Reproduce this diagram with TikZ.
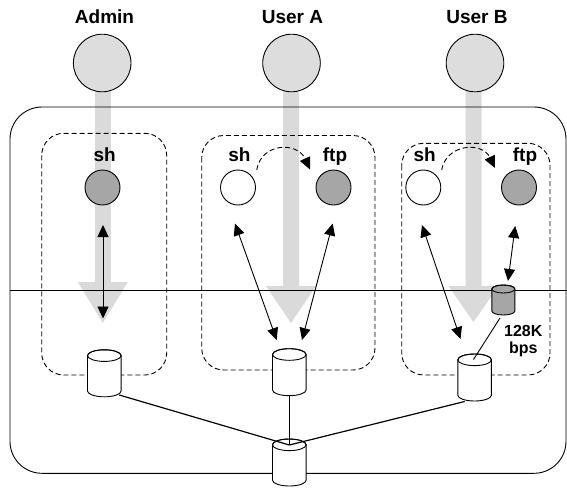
\documentclass[tikz,border=0pt]{standalone}
\usepackage{fontspec}
\setmainfont{Liberation Sans}
\usetikzlibrary{arrows.meta,calc}
\definecolor{ucol}{HTML}{DDDDDD}
\definecolor{shaftc}{HTML}{DADADA}
\definecolor{procg}{HTML}{A6A6A6}
% #1 name, #2 position, #3 x radius, #4 height, #5 y radius of the ends, #6 fill
\newcommand{\dbcyl}[6]{%
  \node[inner sep=0pt, outer sep=0pt, minimum width=2*#3pt, minimum height=#4pt] (#1) at (#2) {};
  \filldraw[fill=#6, line width=0.9pt]
    ($(#1.north west)+(0pt,-#5pt)$) -- ($(#1.south west)+(0pt,#5pt)$)
    arc[start angle=180, end angle=360, x radius=#3pt, y radius=#5pt]
    -- ($(#1.north east)+(0pt,-#5pt)$)
    arc[start angle=0, end angle=180, x radius=#3pt, y radius=#5pt] -- cycle;
  \draw[line width=0.9pt] ($(#1.north)+(0pt,-#5pt)$) ellipse [x radius=#3pt, y radius=#5pt];
}
\begin{document}
\begin{tikzpicture}[x=1pt,y=-1pt,
  lbl/.style={font=\fontsize{19}{21}\selectfont\bfseries, inner sep=0pt, anchor=base},
  user/.style={circle, draw, line width=0.9pt, fill=ucol, minimum size=57.6pt, inner sep=0pt},
  proc/.style={circle, draw, line width=0.9pt, minimum size=35pt, inner sep=0pt},
  grp/.style={draw, dash pattern=on 5pt off 3pt, line width=0.9pt, rounded corners=22pt},
  dbl/.style={line width=0.9pt, {Triangle[length=12pt,width=11pt]}-{Triangle[length=12pt,width=11pt]}},
  flow/.style={line width=0.9pt, dash pattern=on 5pt off 3pt, -{Triangle[length=12pt,width=11pt]}},
  solidline/.style={line width=0.9pt},
  hubline/.style={line width=1.2pt}
]
\useasboundingbox (0,0) rectangle (567,488);

% big gray arrows
\foreach \x/\h/\t in {102.8/282/323, 291/286/323, 473.5/286/322}{
  \fill[shaftc] (\x-8,85) -- (\x+8,85) -- (\x+8,\h) -- (\x+25,\h) -- (\x,\t) -- (\x-25,\h) -- (\x-8,\h) -- cycle;
}

% outer frame and divider
\draw[solidline, rounded corners=32pt] (10,107) rectangle (566,473.3);
\coordinate (hl) at (10,290);
\coordinate (hr) at (567,290);
\draw[solidline] (hl) -- (hr);

% dashed groups
\draw[grp] (41.7,133.3) rectangle (166.7,375);
\draw[grp] (201.7,135.5) rectangle (375,370);
\draw[grp] (401.7,143.3) rectangle (550,375);

% titles and users
\node[lbl] (tAd) at (104.5,23.3) {Admin};
\node[lbl] (tUA) at (292.5,23.3) {User A};
\node[lbl] (tUB) at (477,23.3) {User B};
\node[user] (ad) at (102.2,63) {};
\node[user] (uA) at (291.5,63) {};
\node[user] (uB) at (475,63) {};

% processes
\node[proc, fill=procg] (shAd) at (102.5,187.5) {};
\node[proc, fill=white] (shA) at (238,187.5) {};
\node[proc, fill=procg] (ftpA) at (333.5,187.5) {};
\node[proc, fill=white] (shB) at (423.3,187.5) {};
\node[proc, fill=procg] (ftpB) at (519,187.5) {};

\node[lbl] (lshAd) at (104.7,161.7) {sh};
\node[lbl] (lshA) at (239.5,161.7) {sh};
\node[lbl] (lftpA) at (335,161.7) {ftp};
\node[lbl] (lshB) at (424.7,161.7) {sh};
\node[lbl] (lftpB) at (525,161.7) {ftp};

% fork curves
\coordinate (fA0) at (256.7,170);
\coordinate (fA1) at (310,169.5);
\draw[flow] (fA0) .. controls (261,143) and (297,141) .. (fA1);
\coordinate (fB0) at (441.7,170);
\coordinate (fB1) at (495,168);
\draw[flow] (fB0) .. controls (446,144) and (482,141) .. (fB1);

% cylinders
\dbcyl{cAd}{104.3,373.3}{16.8}{47}{5.8}{white}
\dbcyl{cA}{289.3,372.2}{16.8}{47}{5.8}{white}
\dbcyl{cB}{474.6,377.5}{16.8}{47}{5.8}{white}
\dbcyl{hubc}{289.3,462.5}{16.8}{47}{5.8}{white}
\coordinate (hub) at (289.3,445);
\coordinate (cAdo) at (119.3,395);
\coordinate (cBo) at (464.7,401.5);
\coordinate (cBtop) at (473.5,359.5);
\coordinate (gBo) at (500,318);
\draw[hubline] (cAdo) -- (hub);
\draw[hubline] (cA.south) -- (hub);
\draw[hubline] (cBo) -- (hub);
\draw[solidline] (gBo) -- (cBtop);
\dbcyl{gB}{503.3,300}{11.5}{30}{4}{procg}
\node[font=\fontsize{16}{17}\selectfont\bfseries, align=center, inner sep=0pt] (bw) at (523.3,341) {128K\\bps};

% access arrows
\coordinate (a1) at (103,225);
\coordinate (a2) at (103,318.5);
\draw[dbl] (a1) -- (a2);
\coordinate (b1) at (235,223.5);
\coordinate (b2) at (276.7,340);
\draw[dbl] (b1) -- (b2);
\coordinate (b3) at (332.7,223.5);
\coordinate (b4) at (302,340);
\draw[dbl] (b3) -- (b4);
\coordinate (c1) at (422,225);
\coordinate (c2) at (460.5,339);
\draw[dbl] (c1) -- (c2);
\coordinate (c3) at (515.2,226);
\coordinate (c4) at (508,281);
\draw[dbl] (c3) -- (c4);
\end{tikzpicture}
\end{document}
